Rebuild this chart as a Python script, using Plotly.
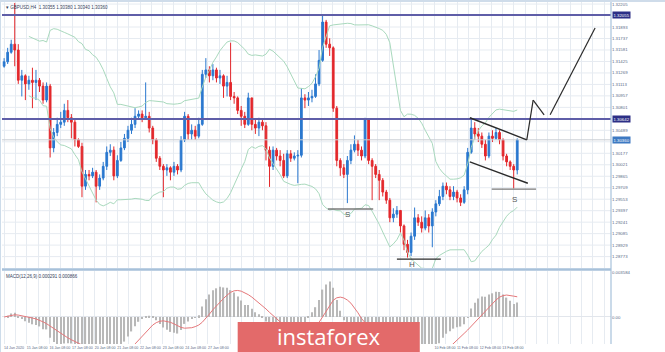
import plotly.graph_objects as go
from plotly.subplots import make_subplots
import pandas as pd

symbol_title = "\u25be GBPUSD,H4  1.30355 1.30380 1.30340 1.30360"
macd_title = "MACD(12,26,9) 0.000291 0.000866"

first_open = 1.3136
closes = [1.3142, 1.3155, 1.3166, 1.3158, 1.3117, 1.3123, 1.3112, 1.3117, 1.3114, 1.3117,
          1.3109, 1.3090, 1.3109, 1.3025, 1.3046, 1.3057, 1.3060, 1.3076, 1.3066, 1.3060,
          1.3036, 1.3027, 1.2973, 1.2989, 1.2987, 1.2992, 1.2973, 1.2984, 1.3000, 1.3019,
          1.3022, 1.2987, 1.3008, 1.3025, 1.3038, 1.3049, 1.3057, 1.3068, 1.3071, 1.3066,
          1.3068, 1.3052, 1.3036, 1.3011, 1.3000, 1.2995, 1.2998, 1.2992, 1.3000, 1.2995,
          1.3036, 1.3068, 1.3044, 1.3049, 1.3041, 1.3057, 1.3125, 1.3131, 1.3123, 1.3131,
          1.3120, 1.3123, 1.3109, 1.3114, 1.3095, 1.3093, 1.3076, 1.3068, 1.3057, 1.3093,
          1.3057, 1.3052, 1.3060, 1.3055, 1.3022, 1.3000, 1.3022, 1.3014, 1.3008, 1.2987,
          1.3017, 1.3011, 1.3014, 1.3015, 1.3093, 1.3090, 1.3093, 1.3095, 1.3112, 1.3144,
          1.3196, 1.3166, 1.3161, 1.3079, 1.3008, 1.2998, 1.2989, 1.3008, 1.3022, 1.3030,
          1.3022, 1.3014, 1.3063, 1.3008, 1.3000, 1.2989, 1.2981, 1.2965, 1.2954, 1.2930,
          1.2935, 1.2940, 1.2919, 1.2894, 1.2883, 1.2905, 1.2930, 1.2924, 1.2916, 1.2930,
          1.2919, 1.2938, 1.2949, 1.2959, 1.2973, 1.2968, 1.2959, 1.2965, 1.2957, 1.2951,
          1.2968, 1.3019, 1.3052, 1.3044, 1.3041, 1.3030, 1.3014, 1.3041, 1.3038, 1.3046,
          1.3036, 1.3014, 1.3006, 1.3000, 1.2995, 1.3036]
highs = [1.3147, 1.3161, 1.3172, 1.3222, 1.3166, 1.3131, 1.3125, 1.3123, 1.3134, 1.3131,
         1.3120, 1.3114, 1.3114, 1.3112, 1.3052, 1.3066, 1.3074, 1.3085, 1.3090, 1.3071,
         1.3063, 1.3038, 1.3032, 1.2995, 1.2995, 1.2998, 1.2995, 1.2989, 1.3006, 1.3027,
         1.3030, 1.3027, 1.3015, 1.3033, 1.3044, 1.3055, 1.3066, 1.3079, 1.3076, 1.3076,
         1.3114, 1.3074, 1.3055, 1.3038, 1.3014, 1.3003, 1.3003, 1.3000, 1.3006, 1.3003,
         1.3041, 1.3074, 1.3071, 1.3057, 1.3055, 1.3066, 1.3131, 1.3147, 1.3136, 1.3139,
         1.3134, 1.3131, 1.3125, 1.3123, 1.3168, 1.3101, 1.3095, 1.3082, 1.3074, 1.3100,
         1.3093, 1.3063, 1.3066, 1.3063, 1.3060, 1.3027, 1.3027, 1.3025, 1.3022, 1.3017,
         1.3022, 1.3022, 1.3019, 1.3022, 1.3106, 1.3098, 1.3101, 1.3104, 1.3125, 1.3158,
         1.3206, 1.3199, 1.3174, 1.3163, 1.3082, 1.3011, 1.3003, 1.3014, 1.3030, 1.3042,
         1.3036, 1.3027, 1.3066, 1.3063, 1.3011, 1.3003, 1.2995, 1.2984, 1.2968, 1.2957,
         1.2943, 1.2946, 1.2938, 1.2921, 1.2900, 1.2910, 1.2944, 1.2935, 1.2932, 1.2940,
         1.2935, 1.2943, 1.2954, 1.2968, 1.2978, 1.2978, 1.2973, 1.2973, 1.2968, 1.2962,
         1.2973, 1.3025, 1.3066, 1.3060, 1.3052, 1.3046, 1.3036, 1.3046, 1.3049, 1.3052,
         1.3049, 1.3038, 1.3017, 1.3008, 1.3003, 1.3038]
lows = [1.3134, 1.3139, 1.3153, 1.3136, 1.3112, 1.3095, 1.3090, 1.3104, 1.3079, 1.3090,
        1.3101, 1.3085, 1.3087, 1.3012, 1.3019, 1.3041, 1.3052, 1.3055, 1.3060, 1.3038,
        1.3027, 1.3025, 1.2958, 1.2968, 1.2981, 1.2984, 1.2951, 1.2968, 1.2981, 1.2995,
        1.3014, 1.2981, 1.2984, 1.3006, 1.3022, 1.3033, 1.3044, 1.3052, 1.3063, 1.3060,
        1.3063, 1.3046, 1.3030, 1.3006, 1.2995, 1.2958, 1.2987, 1.2981, 1.2987, 1.2989,
        1.2992, 1.3033, 1.3036, 1.3036, 1.3036, 1.3038, 1.3055, 1.3120, 1.3114, 1.3117,
        1.3114, 1.3112, 1.3093, 1.3095, 1.3090, 1.3085, 1.3071, 1.3055, 1.3052, 1.3055,
        1.3049, 1.3044, 1.3041, 1.3049, 1.3008, 1.2972, 1.2995, 1.3008, 1.3000, 1.2984,
        1.2984, 1.3006, 1.3008, 1.2977, 1.3012, 1.3079, 1.3082, 1.3087, 1.3093, 1.3109,
        1.3142, 1.3161, 1.3150, 1.3074, 1.3000, 1.2987, 1.2984, 1.2950, 1.3003, 1.3019,
        1.3014, 1.3008, 1.3011, 1.3003, 1.2954, 1.2984, 1.2954, 1.2959, 1.2949, 1.2924,
        1.2924, 1.2930, 1.2910, 1.2886, 1.2876, 1.2878, 1.2900, 1.2919, 1.2910, 1.2913,
        1.2910, 1.2890, 1.2932, 1.2946, 1.2954, 1.2962, 1.2954, 1.2954, 1.2951, 1.2946,
        1.2949, 1.2962, 1.3017, 1.3036, 1.3033, 1.3025, 1.3008, 1.3011, 1.3033, 1.3036,
        1.3030, 1.3008, 1.3000, 1.2995, 1.2970, 1.2989]

# right-hand price scale labels (labels hidden by the highlighted level tags are left out)
price_ticks = [1.32205, 1.31893, 1.31737, 1.31581, 1.31425, 1.31269, 1.31113,
               1.30957, 1.30801, 1.30489, 1.30177, 1.30021, 1.29865,
               1.29709, 1.29553, 1.29397, 1.29241, 1.29085, 1.28929, 1.28773, 1.28617]
grid_levels = [1.32205, 1.32049, 1.31893, 1.31737, 1.31581, 1.31425, 1.31269, 1.31113,
               1.30957, 1.30801, 1.30645, 1.30489, 1.30333, 1.30177, 1.30021, 1.29865,
               1.29709, 1.29553, 1.29397, 1.29241, 1.29085, 1.28929, 1.28773]
# date labels; the ones under the watermark are not visible in the picture
date_labels = ["14 Jan 2020", "15 Jan 08:00", "16 Jan 08:00", "17 Jan 08:00", "20 Jan 08:00",
               "21 Jan 08:00", "22 Jan 08:00", "23 Jan 08:00", "24 Jan 08:00", "27 Jan 08:00",
               "", "", "", "", "", "", "", "", "",
               "10 Feb 08:00", "11 Feb 08:00", "12 Feb 08:00", "13 Feb 08:00"]
resistance_levels = [1.32055, 1.30642]

n = len(closes)
idx = list(range(n))
opens = [first_open] + closes[:-1]
highs = [max(h, o, c) for h, o, c in zip(highs, opens, closes)]
lows = [min(l, o, c) for l, o, c in zip(lows, opens, closes)]

s = pd.Series(closes)
mid = s.rolling(20, min_periods=8).mean()
sd = s.rolling(20, min_periods=8).std(ddof=0)
upper = mid + 2 * sd
lower = mid - 2 * sd
ema12 = s.ewm(span=12, adjust=False).mean()
ema26 = s.ewm(span=26, adjust=False).mean()
macd = ema12 - ema26
signal = macd.rolling(9, min_periods=1).mean()

fig = make_subplots(rows=2, cols=1, shared_xaxes=True, vertical_spacing=0.0)

fig.add_trace(go.Candlestick(
    x=idx, open=opens, high=highs, low=lows, close=closes,
    increasing=dict(line=dict(color="#2a78cf", width=1), fillcolor="#2a78cf"),
    decreasing=dict(line=dict(color="#e3282c", width=1), fillcolor="#e3282c"),
    whiskerwidth=0, showlegend=False, hoverinfo="skip"), row=1, col=1)

band_style = dict(color="#a9d9bd", width=1)
for band in (upper, lower):
    fig.add_trace(go.Scatter(x=idx, y=band, mode="lines", line=band_style,
                             showlegend=False, hoverinfo="skip"), row=1, col=1)

fig.add_trace(go.Bar(x=idx, y=macd, marker=dict(color="#b8b8b8", line=dict(width=0)),
                     width=0.35, showlegend=False, hoverinfo="skip"), row=2, col=1)
fig.add_trace(go.Scatter(x=idx, y=signal, mode="lines", line=dict(color="#e5777a", width=1),
                         showlegend=False, hoverinfo="skip"), row=2, col=1)

x_end = 171.5
grid_c = "#e6ebf1"
tick_pos = [i * 6.4 for i in range(len(date_labels))]
minor_pos = [p + 3.2 for p in tick_pos] + [147.2, 150.4, 153.6, 156.8, 160.0, 163.2, 166.4, 169.6]

fig.update_xaxes(range=[-0.6, x_end], showgrid=True, gridcolor=grid_c, gridwidth=1,
                 zeroline=False, showline=False, tickvals=tick_pos, ticktext=date_labels,
                 minor=dict(tickvals=minor_pos, showgrid=True, gridcolor=grid_c, ticklen=0),
                 tickfont=dict(size=3.6, color="#5a6a86", family="Liberation Sans"),
                 tickangle=0, ticklabelposition="outside right", automargin=False,
                 ticks="", rangeslider=dict(visible=False))
fig.update_xaxes(showticklabels=False, row=1, col=1)

p_top = 1.32233
p_bot = 1.28618
fig.update_yaxes(row=1, col=1, range=[p_bot, p_top], side="right", domain=[0.2222, 1.0],
                 tickvals=price_ticks, ticktext=[f"{v:.5f}" for v in price_ticks],
                 showgrid=False, zeroline=False, ticks="", automargin=False,
                 tickfont=dict(size=4.3, color="#5a6a86", family="Liberation Sans"))
mmax = float(macd.max()) * 1.3
fig.update_yaxes(row=2, col=1, range=[-mmax * 27 / 46, mmax], side="right", domain=[0.0, 0.2135],
                 tickvals=[mmax * 0.97, 0.0], ticktext=[f"{mmax*0.97:.6f}", "0.00"],
                 showgrid=False, zeroline=True, zerolinecolor="#e2e6ec", zerolinewidth=1, ticks="",
                 automargin=False,
                 tickfont=dict(size=4.3, color="#5a6a86", family="Liberation Sans"))

for g in grid_levels:
    fig.add_shape(type="line", xref="x", yref="y", x0=-1, x1=x_end, y0=g, y1=g,
                  line=dict(color=grid_c, width=1), layer="below")

line_c = "#5f5ea8"
for lvl in resistance_levels:
    fig.add_shape(type="line", xref="x", yref="y", x0=-1, x1=x_end, y0=lvl, y1=lvl,
                  line=dict(color=line_c, width=2))
fig.add_shape(type="line", xref="x", yref="y", x0=-1, x1=x_end, y0=closes[-1], y1=closes[-1],
              line=dict(color="#c8ccd2", width=1))

def seg(x0, y0, x1, y1, color="#2b2b2b", width=1.4):
    fig.add_shape(type="line", xref="x", yref="y", x0=x0, y0=y0, x1=x1, y1=y1,
                  line=dict(color=color, width=width))

seg(131.6, 1.3066, 147.7, 1.3036)
seg(131.6, 1.3006, 148.0, 1.2977)
seg(137.8, 1.2969, 150.3, 1.2969, color="#7a7a7a", width=1.4)
seg(91.5, 1.2942, 104.3, 1.2942, color="#7a7a7a", width=1.4)
seg(111.0, 1.2874, 123.4, 1.2874, color="#2b2b2b", width=1.2)
seg(147.7, 1.3036, 149.5, 1.3090, width=1.2)
seg(149.5, 1.3090, 152.6, 1.3070, width=1.2)
seg(154.3, 1.3070, 167.0, 1.3188, width=1.2)

for xt, yt, t in [(96.9, 1.2935, "S"), (144.1, 1.2955, "S"), (115.2, 1.2867, "H")]:
    fig.add_annotation(x=xt, y=yt, xref="x", yref="y", text=t, showarrow=False,
                       font=dict(size=8, color="#555555", family="Liberation Sans"))

for lvl, bg in [(resistance_levels[0], "#2c2f86"), (resistance_levels[1], "#2c2f86"), (closes[-1], "#3d79c2")]:
    fig.add_annotation(x=1.0, y=lvl, xref="paper", yref="y", text=f"{lvl:.5f}", showarrow=False,
                       xanchor="left", xshift=1, bgcolor=bg, borderpad=0.5,
                       font=dict(size=4.3, color="white", family="Liberation Sans"))

fig.add_annotation(x=0.003, y=1.0, xref="paper", yref="paper", text=symbol_title, showarrow=False,
                   xanchor="left", yanchor="top", yshift=-1,
                   font=dict(size=4.5, color="#33405a", family="Liberation Sans"))
fig.add_annotation(x=0.003, y=0.2135, xref="paper", yref="paper", text=macd_title, showarrow=False,
                   xanchor="left", yanchor="top", yshift=-1,
                   font=dict(size=4.5, color="#33405a", family="Liberation Sans"))

frame_c = "#a7c1da"
fig.add_shape(type="line", xref="paper", yref="paper", x0=0, x1=1, y0=0.2178, y1=0.2178,
              line=dict(color=frame_c, width=2.5))
fig.add_shape(type="line", xref="paper", yref="paper", x0=1, x1=1, y0=0, y1=1.006,
              line=dict(color=frame_c, width=1.2))
fig.add_shape(type="line", xref="paper", yref="paper", x0=-0.004, x1=-0.004, y0=-0.03, y1=1.006,
              line=dict(color=frame_c, width=2))
fig.add_shape(type="line", xref="paper", yref="paper", x0=-0.004, x1=1.09, y0=1.004, y1=1.004,
              line=dict(color="#cfdcea", width=2.5))

fig.add_shape(type="rect", xref="paper", yref="paper", x0=0.387, x1=0.686, y0=-0.03, y1=0.064,
              fillcolor="#e36a6a", line=dict(width=0), layer="above")
fig.add_annotation(x=0.537, y=0.024, xref="paper", yref="paper", text="instaforex", showarrow=False,
                   xanchor="center", yanchor="middle",
                   font=dict(size=22, color="white", family="Open Sans"))

fig.update_layout(width=665, height=352, margin=dict(l=2, r=54, t=2, b=8),
                  paper_bgcolor="white", plot_bgcolor="white", boxgap=0.3,
                  barmode="overlay", showlegend=False)

fig.write_html("out.html")
